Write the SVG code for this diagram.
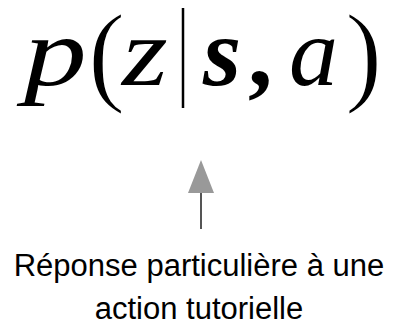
<svg xmlns="http://www.w3.org/2000/svg" width="394" height="323" viewBox="0 0 394 323">
<style>
.m{font-family:"Liberation Serif","DejaVu Serif",serif;font-size:98px;fill:#000}
.p{font-family:"Liberation Serif","DejaVu Serif",serif;font-size:112px;fill:#000;stroke:#fff;stroke-width:1.6}
.i{font-style:italic}
.b{font-weight:bold}
.lbl{font-family:"Liberation Sans",Arial,sans-serif;font-size:31px;fill:#000;text-anchor:middle}
</style>
<rect width="394" height="323" fill="#fff"/>
<g id="formula">
<text class="m i" transform="translate(24,85) scale(1.28,1)">p</text>
<text class="p" x="88" y="91">(</text>
<text class="m i" transform="translate(122,85) scale(1.2,1)">z</text>
<line x1="183" y1="8" x2="183" y2="108" stroke="#000" stroke-width="2.5"/>
<text class="m i b" x="203" y="85">s</text>
<text class="m b" x="248" y="85">,</text>
<text class="m i" x="289" y="85">a</text>
<text class="p" x="345" y="91">)</text>
</g>
<g id="connectors">
<line x1="201" y1="192" x2="201" y2="229" stroke="#555" stroke-width="2"/>
<polygon points="201,160 188,193 214,193" fill="#999"/>
</g>
<g id="label">
<text class="lbl" x="199" y="276">Réponse particulière à une</text>
<text class="lbl" x="199" y="319">action tutorielle</text>
</g>
</svg>
